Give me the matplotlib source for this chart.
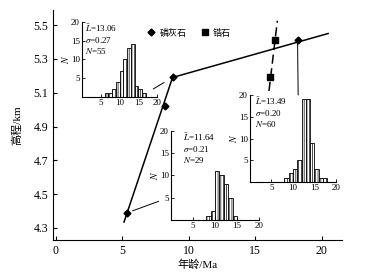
import matplotlib
matplotlib.use("Agg")
import matplotlib.pyplot as plt
from matplotlib.lines import Line2D
from matplotlib.patches import ConnectionPatch

plt.rcParams['font.family'] = ['Liberation Serif', 'Noto Sans CJK SC']
plt.rcParams['mathtext.fontset'] = 'stix'
plt.rcParams['hatch.linewidth'] = 0.5

# main plot data
apatite_age = [5.4, 8.2, 8.8, 18.2]
apatite_elev = [4.39, 5.02, 5.19, 5.41]
zircon_age = [16.1, 16.47]
zircon_elev = [5.19, 5.41]
apatite_fit_age = [5.15, 8.8, 20.5]
apatite_fit_elev = [4.335, 5.19, 5.45]
zircon_fit_age = [16.05, 16.68]
zircon_fit_elev = [5.11, 5.525]

# track length histograms (left bin edges, counts)
hist1_edges = [6, 7, 8, 9, 10, 11, 12, 13, 14, 15, 16]
hist1_counts = [1, 1, 2, 4, 7, 10, 13, 14, 3, 2, 1]
hist2_edges = [8, 9, 10, 11, 12, 13, 14]
hist2_counts = [1, 2, 11, 10, 8, 5, 1]
hist3_edges = [8, 9, 10, 11, 12, 13, 14, 15, 16, 17]
hist3_counts = [1, 2, 3, 5, 19, 19, 9, 3, 1, 1]
mean_len = ['13.06', '11.64', '13.49']
sigma = ['0.27', '0.21', '0.20']
n_tracks = ['55', '29', '60']

fig = plt.figure(figsize=(3.74, 2.80), dpi=100)
ax = fig.add_axes([0.1417, 0.1429, 0.7727, 0.8214])

ax.plot(apatite_fit_age, apatite_fit_elev, color='black', lw=1.1)
ax.plot(zircon_fit_age, zircon_fit_elev, color='black', lw=1.1, dashes=(6, 3))
ax.plot(apatite_age, apatite_elev, 'D', color='black', ms=3.5)
ax.plot(zircon_age, zircon_elev, 's', color='black', ms=5)

ax.set_xlim(-0.19, 21.54)
ax.set_ylim(4.229, 5.589)
ax.set_xticks([0, 5, 10, 15, 20])
ax.set_yticks([4.3, 4.5, 4.7, 4.9, 5.1, 5.3, 5.5])
ax.set_yticklabels(['4.3', '4.5', '4.7', '4.9', '5.1', '5.3', '5.5'])
ax.spines['top'].set_visible(False)
ax.spines['right'].set_visible(False)
ax.tick_params(direction='in', length=3, labelsize=8.5, width=0.8)
ax.set_xlabel('年龄/Ma', fontsize=8, labelpad=2)
ax.set_ylabel('高程/km', fontsize=8, labelpad=8)

handles = [Line2D([], [], marker='D', ls='none', color='black', ms=3.5),
           Line2D([], [], marker='s', ls='none', color='black', ms=4.5)]
ax.legend(handles, ['磷灰石', '锆石'], ncol=2, frameon=False, loc='center left',
          bbox_to_anchor=(0.325, 0.9), handlelength=1, handletextpad=0.4,
          columnspacing=1.5, borderpad=0, borderaxespad=0, fontsize=6.5)

insets = [
    ([0.2193, 0.6536, 0.2005, 0.2679], hist1_edges, hist1_counts, 0.04),
    ([0.4572, 0.2143, 0.2353, 0.3179], hist2_edges, hist2_counts, 0.14),
    ([0.6684, 0.3500, 0.2300, 0.3107], hist3_edges, hist3_counts, 0.06),
]
inset_axes = []
for i, (pos, edges, counts, tx) in enumerate(insets):
    ia = fig.add_axes(pos, facecolor='none')
    ia.bar(edges, counts, width=1, align='edge', facecolor='white',
           edgecolor='black', linewidth=0.6, hatch='|' * 6)
    ia.set_xlim(0, 20)
    ia.set_ylim(0, 20)
    ia.set_xticks([5, 10, 15, 20])
    ia.set_yticks([5, 10, 15, 20])
    ia.spines['top'].set_visible(False)
    ia.spines['right'].set_visible(False)
    ia.tick_params(direction='in', length=2, labelsize=6.5, pad=1.5, width=0.6)
    ia.set_ylabel('$N$', fontsize=7, labelpad=0)
    ia.text(tx, 1.0, r'$\bar{L}$=' + mean_len[i] + '\n' + r'$\sigma$=' + sigma[i]
            + '\n' + '$N$=' + n_tracks[i], transform=ia.transAxes,
            fontsize=6.5, va='top', ha='left', linespacing=1.15)
    inset_axes.append(ia)

# leader lines from samples to their histograms
leaders = [
    (inset_axes[0], (0.95, 0.107), (apatite_age[2], apatite_elev[2]), 7),
    (inset_axes[1], (-0.14, 0.21), (apatite_age[0], apatite_elev[0]), 4),
    (inset_axes[2], (0.56, 1.0), (apatite_age[3], apatite_elev[3]), 2),
]
for ia, xy_in, xy_pt, shrink in leaders:
    cp = ConnectionPatch(xyA=xy_in, coordsA=ia.transAxes, xyB=xy_pt,
                         coordsB=ax.transData, lw=0.7, color='black', shrinkB=shrink)
    fig.add_artist(cp)

fig.savefig('out.png', dpi=100)
